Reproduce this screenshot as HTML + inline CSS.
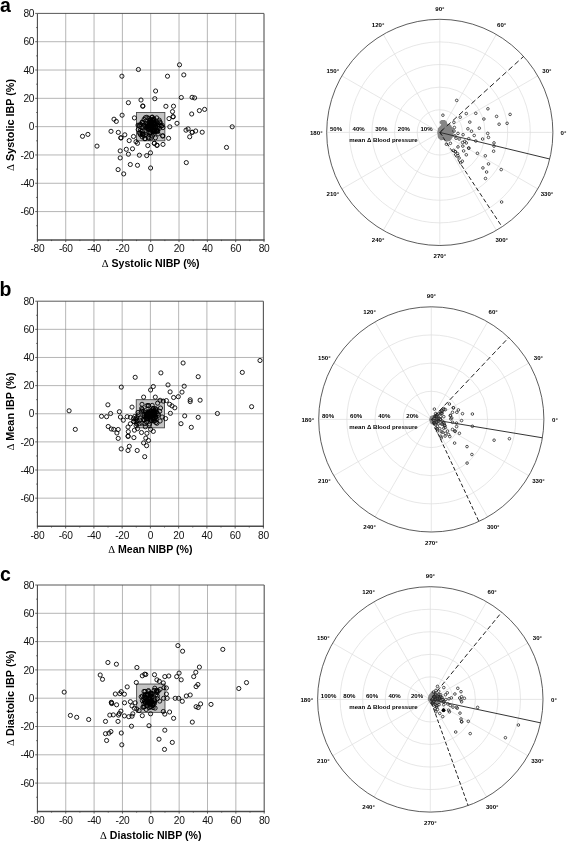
<!DOCTYPE html>
<html><head><meta charset="utf-8"><title>Figure</title>
<style>html,body{margin:0;padding:0;background:#fff}body{width:567px;height:842px;overflow:hidden;font-family:"Liberation Sans",sans-serif}</style>
</head><body>
<svg width="567" height="842" viewBox="0 0 567 842" style="display:block;will-change:transform">
<rect width="567" height="842" fill="#fff"/>
<g id="scatter-a">
<path d="M65.72 13.40V239.90M37.40 211.59H264.00M94.05 13.40V239.90M37.40 183.28H264.00M122.38 13.40V239.90M37.40 154.96H264.00M150.70 13.40V239.90M37.40 126.65H264.00M179.03 13.40V239.90M37.40 98.34H264.00M207.35 13.40V239.90M37.40 70.03H264.00M235.68 13.40V239.90M37.40 41.71H264.00" stroke="#8e8e8e" stroke-width="0.65" fill="none"/>
<rect x="136.54" y="112.49" width="28.32" height="28.31" fill="#c4c4c4" stroke="#4a4a4a" stroke-width="0.9"/>
<path d="M37.40 13.40H264.00" stroke="#444" stroke-width="0.9" fill="none"/>
<path d="M264.00 13.40V239.90" stroke="#5a5a5a" stroke-width="1.15" fill="none"/>
<path d="M37.40 13.40V239.90" stroke="#444" stroke-width="1.05" fill="none"/>
<path d="M36.90 239.90H264.60" stroke="#4c4c4c" stroke-width="1.45" fill="none"/>
<path d="M37.40 239.90v2.2M51.56 239.90v1.2M37.40 225.74h-1.2M65.72 239.90v2.2M37.40 211.59h-2.2M79.89 239.90v1.2M37.40 197.43h-1.2M94.05 239.90v2.2M37.40 183.28h-2.2M108.21 239.90v1.2M37.40 169.12h-1.2M122.38 239.90v2.2M37.40 154.96h-2.2M136.54 239.90v1.2M37.40 140.81h-1.2M150.70 239.90v2.2M37.40 126.65h-2.2M164.86 239.90v1.2M37.40 112.49h-1.2M179.03 239.90v2.2M37.40 98.34h-2.2M193.19 239.90v1.2M37.40 84.18h-1.2M207.35 239.90v2.2M37.40 70.03h-2.2M221.51 239.90v1.2M37.40 55.87h-1.2M235.68 239.90v2.2M37.40 41.71h-2.2M249.84 239.90v1.2M37.40 27.56h-1.2M264.00 239.90v2.2M37.40 13.40h-2.2" stroke="#3c3c3c" stroke-width="0.8" fill="none"/>
<g font-family="Liberation Sans, sans-serif" font-size="10.2" letter-spacing="-0.35" fill="#111">
<text x="37.40" y="251.75" text-anchor="middle">-80</text>
<text x="65.72" y="251.75" text-anchor="middle">-60</text>
<text x="34.20" y="215.24" text-anchor="end">-60</text>
<text x="94.05" y="251.75" text-anchor="middle">-40</text>
<text x="34.20" y="186.93" text-anchor="end">-40</text>
<text x="122.38" y="251.75" text-anchor="middle">-20</text>
<text x="34.20" y="158.61" text-anchor="end">-20</text>
<text x="150.70" y="251.75" text-anchor="middle">0</text>
<text x="34.20" y="130.30" text-anchor="end">0</text>
<text x="179.03" y="251.75" text-anchor="middle">20</text>
<text x="34.20" y="101.99" text-anchor="end">20</text>
<text x="207.35" y="251.75" text-anchor="middle">40</text>
<text x="34.20" y="73.68" text-anchor="end">40</text>
<text x="235.68" y="251.75" text-anchor="middle">60</text>
<text x="34.20" y="45.36" text-anchor="end">60</text>
<text x="264.00" y="251.75" text-anchor="middle">80</text>
<text x="34.20" y="17.05" text-anchor="end">80</text>
</g>
<text x="150.70" y="267.30" text-anchor="middle" font-family="Liberation Sans, sans-serif" font-weight="bold" font-size="10.6" fill="#000"><tspan font-family="Liberation Serif, serif" font-weight="normal">Δ</tspan> Systolic NIBP (%)</text>
<text transform="translate(14.0 125.00) rotate(-90)" text-anchor="middle" font-family="Liberation Sans, sans-serif" font-weight="bold" font-size="10.8" fill="#000"><tspan font-family="Liberation Serif, serif" font-weight="normal">Δ</tspan> Systolic IBP (%)</text>
<text x="0.1" y="11.80" font-family="Liberation Sans, sans-serif" font-weight="bold" font-size="19.5" fill="#000">a</text>
<g fill="none" stroke="#000" stroke-width="0.88">
<circle cx="156.7" cy="117.9" r="2.08"/>
<circle cx="152.1" cy="129.0" r="2.08"/>
<circle cx="147.6" cy="125.8" r="2.08"/>
<circle cx="147.9" cy="132.8" r="2.08"/>
<circle cx="152.6" cy="124.7" r="2.08"/>
<circle cx="153.9" cy="129.5" r="2.08"/>
<circle cx="151.8" cy="125.7" r="2.08"/>
<circle cx="146.1" cy="123.6" r="2.08"/>
<circle cx="152.6" cy="126.0" r="2.08"/>
<circle cx="156.5" cy="123.9" r="2.08"/>
<circle cx="155.3" cy="126.7" r="2.08"/>
<circle cx="152.6" cy="120.4" r="2.08"/>
<circle cx="154.4" cy="124.5" r="2.08"/>
<circle cx="147.7" cy="123.8" r="2.08"/>
<circle cx="152.1" cy="121.9" r="2.08"/>
<circle cx="152.6" cy="120.1" r="2.08"/>
<circle cx="151.6" cy="124.5" r="2.08"/>
<circle cx="154.3" cy="130.3" r="2.08"/>
<circle cx="150.3" cy="128.0" r="2.08"/>
<circle cx="159.3" cy="124.9" r="2.08"/>
<circle cx="154.3" cy="122.1" r="2.08"/>
<circle cx="150.7" cy="132.9" r="2.08"/>
<circle cx="155.5" cy="126.9" r="2.08"/>
<circle cx="154.5" cy="131.3" r="2.08"/>
<circle cx="150.1" cy="119.6" r="2.08"/>
<circle cx="157.2" cy="130.9" r="2.08"/>
<circle cx="146.7" cy="126.3" r="2.08"/>
<circle cx="154.6" cy="124.3" r="2.08"/>
<circle cx="153.0" cy="130.0" r="2.08"/>
<circle cx="154.0" cy="119.8" r="2.08"/>
<circle cx="150.1" cy="132.5" r="2.08"/>
<circle cx="148.9" cy="122.1" r="2.08"/>
<circle cx="145.2" cy="126.7" r="2.08"/>
<circle cx="148.0" cy="126.5" r="2.08"/>
<circle cx="150.9" cy="125.4" r="2.08"/>
<circle cx="157.5" cy="122.7" r="2.08"/>
<circle cx="156.9" cy="125.4" r="2.08"/>
<circle cx="150.0" cy="123.8" r="2.08"/>
<circle cx="152.4" cy="131.2" r="2.08"/>
<circle cx="153.6" cy="127.8" r="2.08"/>
<circle cx="148.1" cy="128.4" r="2.08"/>
<circle cx="151.2" cy="119.5" r="2.08"/>
<circle cx="152.2" cy="125.5" r="2.08"/>
<circle cx="153.3" cy="133.9" r="2.08"/>
<circle cx="156.5" cy="129.9" r="2.08"/>
<circle cx="153.5" cy="130.6" r="2.08"/>
<circle cx="148.1" cy="127.8" r="2.08"/>
<circle cx="149.5" cy="127.0" r="2.08"/>
<circle cx="147.4" cy="126.1" r="2.08"/>
<circle cx="149.6" cy="122.2" r="2.08"/>
<circle cx="146.6" cy="127.6" r="2.08"/>
<circle cx="148.6" cy="129.2" r="2.08"/>
<circle cx="154.5" cy="124.5" r="2.08"/>
<circle cx="154.0" cy="119.4" r="2.08"/>
<circle cx="156.2" cy="131.4" r="2.08"/>
<circle cx="149.2" cy="125.4" r="2.08"/>
<circle cx="161.4" cy="126.0" r="2.08"/>
<circle cx="150.6" cy="124.5" r="2.08"/>
<circle cx="142.2" cy="127.7" r="2.08"/>
<circle cx="153.8" cy="118.8" r="2.08"/>
<circle cx="139.8" cy="133.4" r="2.08"/>
<circle cx="155.4" cy="137.8" r="2.08"/>
<circle cx="154.4" cy="123.2" r="2.08"/>
<circle cx="151.1" cy="138.0" r="2.08"/>
<circle cx="142.3" cy="134.6" r="2.08"/>
<circle cx="138.2" cy="129.6" r="2.08"/>
<circle cx="148.9" cy="118.2" r="2.08"/>
<circle cx="150.9" cy="123.1" r="2.08"/>
<circle cx="150.4" cy="122.6" r="2.08"/>
<circle cx="149.3" cy="132.7" r="2.08"/>
<circle cx="159.2" cy="120.1" r="2.08"/>
<circle cx="145.6" cy="134.5" r="2.08"/>
<circle cx="144.9" cy="138.7" r="2.08"/>
<circle cx="157.3" cy="128.3" r="2.08"/>
<circle cx="159.4" cy="128.4" r="2.08"/>
<circle cx="161.1" cy="126.0" r="2.08"/>
<circle cx="162.9" cy="127.6" r="2.08"/>
<circle cx="139.3" cy="125.1" r="2.08"/>
<circle cx="157.6" cy="131.6" r="2.08"/>
<circle cx="139.7" cy="132.7" r="2.08"/>
<circle cx="140.5" cy="134.8" r="2.08"/>
<circle cx="158.1" cy="133.9" r="2.08"/>
<circle cx="151.9" cy="127.9" r="2.08"/>
<circle cx="142.4" cy="122.0" r="2.08"/>
<circle cx="140.8" cy="124.5" r="2.08"/>
<circle cx="140.4" cy="130.3" r="2.08"/>
<circle cx="142.9" cy="133.8" r="2.08"/>
<circle cx="145.3" cy="117.7" r="2.08"/>
<circle cx="142.9" cy="130.6" r="2.08"/>
<circle cx="159.6" cy="121.8" r="2.08"/>
<circle cx="142.9" cy="134.1" r="2.08"/>
<circle cx="157.5" cy="130.1" r="2.08"/>
<circle cx="145.1" cy="138.6" r="2.08"/>
<circle cx="139.7" cy="126.3" r="2.08"/>
<circle cx="143.7" cy="125.2" r="2.08"/>
<circle cx="147.1" cy="128.5" r="2.08"/>
<circle cx="162.3" cy="125.4" r="2.08"/>
<circle cx="152.3" cy="117.1" r="2.08"/>
<circle cx="142.2" cy="136.9" r="2.08"/>
<circle cx="143.9" cy="135.8" r="2.08"/>
<circle cx="160.3" cy="122.6" r="2.08"/>
<circle cx="148.4" cy="137.3" r="2.08"/>
<circle cx="143.6" cy="122.6" r="2.08"/>
<circle cx="144.1" cy="119.4" r="2.08"/>
<circle cx="152.9" cy="131.7" r="2.08"/>
<circle cx="142.0" cy="122.4" r="2.08"/>
<circle cx="151.9" cy="117.5" r="2.08"/>
<circle cx="153.4" cy="132.0" r="2.08"/>
<circle cx="149.0" cy="138.3" r="2.08"/>
<circle cx="142.0" cy="131.4" r="2.08"/>
<circle cx="152.3" cy="136.0" r="2.08"/>
<circle cx="146.8" cy="117.3" r="2.08"/>
<circle cx="155.4" cy="123.9" r="2.08"/>
<circle cx="138.0" cy="125.2" r="2.08"/>
<circle cx="149.9" cy="120.9" r="2.08"/>
<circle cx="138.4" cy="69.5" r="2.08"/>
<circle cx="121.9" cy="76.2" r="2.08"/>
<circle cx="155.6" cy="91.0" r="2.08"/>
<circle cx="141.0" cy="100.0" r="2.08"/>
<circle cx="154.8" cy="98.7" r="2.08"/>
<circle cx="128.4" cy="102.7" r="2.08"/>
<circle cx="142.7" cy="106.0" r="2.08"/>
<circle cx="142.9" cy="106.2" r="2.08"/>
<circle cx="122.1" cy="115.2" r="2.08"/>
<circle cx="114.0" cy="119.2" r="2.08"/>
<circle cx="116.3" cy="121.4" r="2.08"/>
<circle cx="134.4" cy="117.9" r="2.08"/>
<circle cx="111.0" cy="131.3" r="2.08"/>
<circle cx="118.3" cy="132.4" r="2.08"/>
<circle cx="87.9" cy="134.4" r="2.08"/>
<circle cx="82.5" cy="136.3" r="2.08"/>
<circle cx="124.8" cy="134.8" r="2.08"/>
<circle cx="120.8" cy="137.8" r="2.08"/>
<circle cx="121.0" cy="137.9" r="2.08"/>
<circle cx="133.5" cy="136.5" r="2.08"/>
<circle cx="179.5" cy="64.8" r="2.08"/>
<circle cx="183.8" cy="74.9" r="2.08"/>
<circle cx="167.5" cy="76.2" r="2.08"/>
<circle cx="181.3" cy="97.5" r="2.08"/>
<circle cx="192.1" cy="97.3" r="2.08"/>
<circle cx="194.6" cy="97.9" r="2.08"/>
<circle cx="165.9" cy="106.3" r="2.08"/>
<circle cx="173.5" cy="106.2" r="2.08"/>
<circle cx="172.5" cy="111.6" r="2.08"/>
<circle cx="204.6" cy="109.4" r="2.08"/>
<circle cx="199.4" cy="110.6" r="2.08"/>
<circle cx="191.7" cy="114.0" r="2.08"/>
<circle cx="173.0" cy="116.7" r="2.08"/>
<circle cx="173.2" cy="116.8" r="2.08"/>
<circle cx="169.0" cy="118.6" r="2.08"/>
<circle cx="177.0" cy="123.3" r="2.08"/>
<circle cx="169.8" cy="126.8" r="2.08"/>
<circle cx="232.2" cy="126.8" r="2.08"/>
<circle cx="186.0" cy="130.2" r="2.08"/>
<circle cx="188.1" cy="128.9" r="2.08"/>
<circle cx="195.7" cy="131.0" r="2.08"/>
<circle cx="192.1" cy="132.2" r="2.08"/>
<circle cx="192.2" cy="132.4" r="2.08"/>
<circle cx="202.2" cy="132.2" r="2.08"/>
<circle cx="189.7" cy="136.8" r="2.08"/>
<circle cx="168.6" cy="138.3" r="2.08"/>
<circle cx="162.7" cy="135.7" r="2.08"/>
<circle cx="129.2" cy="140.6" r="2.08"/>
<circle cx="97.0" cy="146.1" r="2.08"/>
<circle cx="136.0" cy="141.7" r="2.08"/>
<circle cx="137.5" cy="143.3" r="2.08"/>
<circle cx="147.8" cy="145.6" r="2.08"/>
<circle cx="154.4" cy="143.3" r="2.08"/>
<circle cx="157.0" cy="145.3" r="2.08"/>
<circle cx="120.2" cy="150.9" r="2.08"/>
<circle cx="126.3" cy="149.3" r="2.08"/>
<circle cx="132.5" cy="148.8" r="2.08"/>
<circle cx="128.4" cy="154.2" r="2.08"/>
<circle cx="139.4" cy="155.2" r="2.08"/>
<circle cx="146.7" cy="155.6" r="2.08"/>
<circle cx="150.5" cy="152.8" r="2.08"/>
<circle cx="120.2" cy="157.9" r="2.08"/>
<circle cx="130.3" cy="164.5" r="2.08"/>
<circle cx="137.5" cy="165.3" r="2.08"/>
<circle cx="150.6" cy="168.0" r="2.08"/>
<circle cx="118.1" cy="169.6" r="2.08"/>
<circle cx="123.7" cy="173.9" r="2.08"/>
<circle cx="162.7" cy="136.1" r="2.08"/>
<circle cx="154.3" cy="143.3" r="2.08"/>
<circle cx="157.0" cy="145.3" r="2.08"/>
<circle cx="163.0" cy="144.4" r="2.08"/>
<circle cx="226.5" cy="147.4" r="2.08"/>
<circle cx="186.3" cy="162.6" r="2.08"/>
</g>
</g>
<g id="scatter-b">
<path d="M65.65 301.20V526.30M37.40 498.16H263.40M93.90 301.20V526.30M37.40 470.02H263.40M122.15 301.20V526.30M37.40 441.89H263.40M150.40 301.20V526.30M37.40 413.75H263.40M178.65 301.20V526.30M37.40 385.61H263.40M206.90 301.20V526.30M37.40 357.47H263.40M235.15 301.20V526.30M37.40 329.34H263.40" stroke="#8e8e8e" stroke-width="0.65" fill="none"/>
<rect x="136.27" y="399.68" width="28.25" height="28.14" fill="#c4c4c4" stroke="#4a4a4a" stroke-width="0.9"/>
<path d="M37.40 301.20H263.40" stroke="#444" stroke-width="0.9" fill="none"/>
<path d="M263.40 301.20V526.30" stroke="#5a5a5a" stroke-width="1.15" fill="none"/>
<path d="M37.40 301.20V526.30" stroke="#444" stroke-width="1.05" fill="none"/>
<path d="M36.90 526.30H264.00" stroke="#4c4c4c" stroke-width="1.45" fill="none"/>
<path d="M37.40 526.30v2.2M51.52 526.30v1.2M37.40 512.23h-1.2M65.65 526.30v2.2M37.40 498.16h-2.2M79.77 526.30v1.2M37.40 484.09h-1.2M93.90 526.30v2.2M37.40 470.02h-2.2M108.03 526.30v1.2M37.40 455.96h-1.2M122.15 526.30v2.2M37.40 441.89h-2.2M136.27 526.30v1.2M37.40 427.82h-1.2M150.40 526.30v2.2M37.40 413.75h-2.2M164.52 526.30v1.2M37.40 399.68h-1.2M178.65 526.30v2.2M37.40 385.61h-2.2M192.77 526.30v1.2M37.40 371.54h-1.2M206.90 526.30v2.2M37.40 357.47h-2.2M221.02 526.30v1.2M37.40 343.41h-1.2M235.15 526.30v2.2M37.40 329.34h-2.2M249.27 526.30v1.2M37.40 315.27h-1.2M263.40 526.30v2.2M37.40 301.20h-2.2" stroke="#3c3c3c" stroke-width="0.8" fill="none"/>
<g font-family="Liberation Sans, sans-serif" font-size="10.2" letter-spacing="-0.35" fill="#111">
<text x="37.40" y="538.65" text-anchor="middle">-80</text>
<text x="65.65" y="538.65" text-anchor="middle">-60</text>
<text x="34.20" y="501.81" text-anchor="end">-60</text>
<text x="93.90" y="538.65" text-anchor="middle">-40</text>
<text x="34.20" y="473.67" text-anchor="end">-40</text>
<text x="122.15" y="538.65" text-anchor="middle">-20</text>
<text x="34.20" y="445.54" text-anchor="end">-20</text>
<text x="150.40" y="538.65" text-anchor="middle">0</text>
<text x="34.20" y="417.40" text-anchor="end">0</text>
<text x="178.65" y="538.65" text-anchor="middle">20</text>
<text x="34.20" y="389.26" text-anchor="end">20</text>
<text x="206.90" y="538.65" text-anchor="middle">40</text>
<text x="34.20" y="361.12" text-anchor="end">40</text>
<text x="235.15" y="538.65" text-anchor="middle">60</text>
<text x="34.20" y="332.99" text-anchor="end">60</text>
<text x="263.40" y="538.65" text-anchor="middle">80</text>
<text x="34.20" y="304.85" text-anchor="end">80</text>
</g>
<text x="150.40" y="553.10" text-anchor="middle" font-family="Liberation Sans, sans-serif" font-weight="bold" font-size="10.6" fill="#000"><tspan font-family="Liberation Serif, serif" font-weight="normal">Δ</tspan> Mean NIBP (%)</text>
<text transform="translate(14.0 411.50) rotate(-90)" text-anchor="middle" font-family="Liberation Sans, sans-serif" font-weight="bold" font-size="10.8" fill="#000"><tspan font-family="Liberation Serif, serif" font-weight="normal">Δ</tspan> Mean IBP (%)</text>
<text x="-0.6" y="295.60" font-family="Liberation Sans, sans-serif" font-weight="bold" font-size="19.5" fill="#000">b</text>
<g fill="none" stroke="#000" stroke-width="0.88">
<circle cx="152.2" cy="413.3" r="2.08"/>
<circle cx="153.8" cy="418.9" r="2.08"/>
<circle cx="149.3" cy="417.4" r="2.08"/>
<circle cx="146.9" cy="418.3" r="2.08"/>
<circle cx="149.0" cy="415.7" r="2.08"/>
<circle cx="147.5" cy="413.3" r="2.08"/>
<circle cx="155.1" cy="414.8" r="2.08"/>
<circle cx="148.1" cy="413.8" r="2.08"/>
<circle cx="151.6" cy="413.8" r="2.08"/>
<circle cx="147.7" cy="414.1" r="2.08"/>
<circle cx="146.2" cy="416.0" r="2.08"/>
<circle cx="150.9" cy="413.3" r="2.08"/>
<circle cx="149.9" cy="412.5" r="2.08"/>
<circle cx="149.8" cy="416.6" r="2.08"/>
<circle cx="155.8" cy="417.3" r="2.08"/>
<circle cx="151.3" cy="420.8" r="2.08"/>
<circle cx="152.9" cy="414.3" r="2.08"/>
<circle cx="150.9" cy="420.2" r="2.08"/>
<circle cx="146.5" cy="414.0" r="2.08"/>
<circle cx="144.0" cy="415.7" r="2.08"/>
<circle cx="154.0" cy="416.0" r="2.08"/>
<circle cx="150.1" cy="418.7" r="2.08"/>
<circle cx="151.4" cy="410.7" r="2.08"/>
<circle cx="150.1" cy="416.5" r="2.08"/>
<circle cx="153.2" cy="415.3" r="2.08"/>
<circle cx="153.4" cy="415.4" r="2.08"/>
<circle cx="156.2" cy="414.6" r="2.08"/>
<circle cx="146.5" cy="415.3" r="2.08"/>
<circle cx="148.0" cy="418.9" r="2.08"/>
<circle cx="149.9" cy="412.0" r="2.08"/>
<circle cx="149.8" cy="415.5" r="2.08"/>
<circle cx="153.3" cy="419.2" r="2.08"/>
<circle cx="152.8" cy="415.1" r="2.08"/>
<circle cx="150.8" cy="415.5" r="2.08"/>
<circle cx="149.2" cy="417.1" r="2.08"/>
<circle cx="154.2" cy="410.6" r="2.08"/>
<circle cx="152.4" cy="416.1" r="2.08"/>
<circle cx="145.7" cy="412.5" r="2.08"/>
<circle cx="154.1" cy="412.8" r="2.08"/>
<circle cx="153.3" cy="408.6" r="2.08"/>
<circle cx="156.5" cy="412.0" r="2.08"/>
<circle cx="153.5" cy="413.2" r="2.08"/>
<circle cx="151.6" cy="416.1" r="2.08"/>
<circle cx="153.0" cy="408.4" r="2.08"/>
<circle cx="150.0" cy="413.6" r="2.08"/>
<circle cx="152.9" cy="413.9" r="2.08"/>
<circle cx="154.0" cy="412.7" r="2.08"/>
<circle cx="146.4" cy="419.3" r="2.08"/>
<circle cx="153.3" cy="411.4" r="2.08"/>
<circle cx="154.7" cy="412.6" r="2.08"/>
<circle cx="151.4" cy="420.3" r="2.08"/>
<circle cx="155.7" cy="416.8" r="2.08"/>
<circle cx="154.5" cy="418.0" r="2.08"/>
<circle cx="148.3" cy="414.3" r="2.08"/>
<circle cx="149.1" cy="417.4" r="2.08"/>
<circle cx="153.9" cy="411.0" r="2.08"/>
<circle cx="152.1" cy="415.3" r="2.08"/>
<circle cx="147.7" cy="416.8" r="2.08"/>
<circle cx="148.3" cy="412.1" r="2.08"/>
<circle cx="154.9" cy="420.9" r="2.08"/>
<circle cx="141.5" cy="411.3" r="2.08"/>
<circle cx="155.7" cy="410.6" r="2.08"/>
<circle cx="151.2" cy="411.0" r="2.08"/>
<circle cx="137.1" cy="420.9" r="2.08"/>
<circle cx="134.7" cy="416.5" r="2.08"/>
<circle cx="143.7" cy="419.3" r="2.08"/>
<circle cx="149.5" cy="423.9" r="2.08"/>
<circle cx="136.0" cy="421.7" r="2.08"/>
<circle cx="136.8" cy="423.8" r="2.08"/>
<circle cx="153.3" cy="421.0" r="2.08"/>
<circle cx="155.9" cy="422.5" r="2.08"/>
<circle cx="138.0" cy="412.5" r="2.08"/>
<circle cx="145.8" cy="418.2" r="2.08"/>
<circle cx="152.5" cy="414.5" r="2.08"/>
<circle cx="145.3" cy="426.8" r="2.08"/>
<circle cx="144.3" cy="420.0" r="2.08"/>
<circle cx="155.7" cy="409.1" r="2.08"/>
<circle cx="136.1" cy="425.8" r="2.08"/>
<circle cx="144.6" cy="416.7" r="2.08"/>
<circle cx="159.7" cy="411.3" r="2.08"/>
<circle cx="146.8" cy="415.7" r="2.08"/>
<circle cx="139.8" cy="420.2" r="2.08"/>
<circle cx="145.4" cy="410.7" r="2.08"/>
<circle cx="135.7" cy="419.1" r="2.08"/>
<circle cx="138.3" cy="415.0" r="2.08"/>
<circle cx="143.9" cy="414.2" r="2.08"/>
<circle cx="134.0" cy="421.7" r="2.08"/>
<circle cx="139.3" cy="423.6" r="2.08"/>
<circle cx="148.4" cy="405.6" r="2.08"/>
<circle cx="148.6" cy="405.6" r="2.08"/>
<circle cx="144.6" cy="423.6" r="2.08"/>
<circle cx="157.6" cy="403.2" r="2.08"/>
<circle cx="158.4" cy="415.2" r="2.08"/>
<circle cx="133.6" cy="418.4" r="2.08"/>
<circle cx="149.3" cy="425.5" r="2.08"/>
<circle cx="143.2" cy="411.2" r="2.08"/>
<circle cx="160.5" cy="408.0" r="2.08"/>
<circle cx="140.0" cy="418.0" r="2.08"/>
<circle cx="148.4" cy="412.7" r="2.08"/>
<circle cx="142.1" cy="409.7" r="2.08"/>
<circle cx="141.7" cy="408.4" r="2.08"/>
<circle cx="149.7" cy="410.8" r="2.08"/>
<circle cx="156.2" cy="418.8" r="2.08"/>
<circle cx="141.9" cy="423.2" r="2.08"/>
<circle cx="155.4" cy="408.7" r="2.08"/>
<circle cx="146.5" cy="421.8" r="2.08"/>
<circle cx="147.0" cy="405.6" r="2.08"/>
<circle cx="151.2" cy="411.8" r="2.08"/>
<circle cx="158.1" cy="413.7" r="2.08"/>
<circle cx="152.2" cy="405.4" r="2.08"/>
<circle cx="135.2" cy="377.3" r="2.08"/>
<circle cx="121.3" cy="387.1" r="2.08"/>
<circle cx="143.6" cy="397.1" r="2.08"/>
<circle cx="107.9" cy="404.8" r="2.08"/>
<circle cx="132.0" cy="407.1" r="2.08"/>
<circle cx="142.0" cy="404.3" r="2.08"/>
<circle cx="69.1" cy="410.8" r="2.08"/>
<circle cx="119.4" cy="411.7" r="2.08"/>
<circle cx="110.6" cy="413.5" r="2.08"/>
<circle cx="101.5" cy="416.3" r="2.08"/>
<circle cx="106.6" cy="416.7" r="2.08"/>
<circle cx="120.4" cy="417.0" r="2.08"/>
<circle cx="123.3" cy="420.2" r="2.08"/>
<circle cx="127.2" cy="416.7" r="2.08"/>
<circle cx="130.4" cy="417.3" r="2.08"/>
<circle cx="75.3" cy="429.4" r="2.08"/>
<circle cx="108.2" cy="426.5" r="2.08"/>
<circle cx="111.3" cy="429.0" r="2.08"/>
<circle cx="113.7" cy="429.4" r="2.08"/>
<circle cx="118.2" cy="429.5" r="2.08"/>
<circle cx="116.9" cy="433.0" r="2.08"/>
<circle cx="118.2" cy="438.4" r="2.08"/>
<circle cx="128.0" cy="427.0" r="2.08"/>
<circle cx="130.4" cy="423.8" r="2.08"/>
<circle cx="133.6" cy="421.4" r="2.08"/>
<circle cx="136.7" cy="417.5" r="2.08"/>
<circle cx="128.3" cy="431.7" r="2.08"/>
<circle cx="128.0" cy="436.2" r="2.08"/>
<circle cx="128.2" cy="436.3" r="2.08"/>
<circle cx="133.9" cy="437.6" r="2.08"/>
<circle cx="141.5" cy="432.5" r="2.08"/>
<circle cx="134.4" cy="430.2" r="2.08"/>
<circle cx="137.5" cy="428.6" r="2.08"/>
<circle cx="121.2" cy="448.9" r="2.08"/>
<circle cx="129.3" cy="446.3" r="2.08"/>
<circle cx="128.0" cy="450.5" r="2.08"/>
<circle cx="137.2" cy="450.5" r="2.08"/>
<circle cx="143.6" cy="442.9" r="2.08"/>
<circle cx="144.7" cy="456.7" r="2.08"/>
<circle cx="183.1" cy="363.0" r="2.08"/>
<circle cx="160.9" cy="372.9" r="2.08"/>
<circle cx="198.2" cy="376.7" r="2.08"/>
<circle cx="168.0" cy="384.9" r="2.08"/>
<circle cx="184.2" cy="386.2" r="2.08"/>
<circle cx="153.3" cy="386.5" r="2.08"/>
<circle cx="150.6" cy="390.0" r="2.08"/>
<circle cx="170.1" cy="391.9" r="2.08"/>
<circle cx="182.0" cy="392.1" r="2.08"/>
<circle cx="173.6" cy="397.5" r="2.08"/>
<circle cx="178.3" cy="396.7" r="2.08"/>
<circle cx="155.3" cy="397.1" r="2.08"/>
<circle cx="190.2" cy="399.8" r="2.08"/>
<circle cx="190.2" cy="401.6" r="2.08"/>
<circle cx="200.1" cy="400.2" r="2.08"/>
<circle cx="166.4" cy="400.6" r="2.08"/>
<circle cx="163.3" cy="401.1" r="2.08"/>
<circle cx="160.1" cy="400.3" r="2.08"/>
<circle cx="169.6" cy="404.3" r="2.08"/>
<circle cx="172.0" cy="405.9" r="2.08"/>
<circle cx="174.8" cy="407.8" r="2.08"/>
<circle cx="170.4" cy="413.3" r="2.08"/>
<circle cx="184.7" cy="415.9" r="2.08"/>
<circle cx="198.2" cy="417.3" r="2.08"/>
<circle cx="217.4" cy="413.5" r="2.08"/>
<circle cx="165.6" cy="418.6" r="2.08"/>
<circle cx="162.1" cy="417.0" r="2.08"/>
<circle cx="181.0" cy="423.7" r="2.08"/>
<circle cx="191.3" cy="427.3" r="2.08"/>
<circle cx="160.1" cy="421.0" r="2.08"/>
<circle cx="156.9" cy="423.3" r="2.08"/>
<circle cx="260.0" cy="360.5" r="2.08"/>
<circle cx="242.3" cy="372.4" r="2.08"/>
<circle cx="251.6" cy="406.7" r="2.08"/>
<circle cx="153.3" cy="431.4" r="2.08"/>
<circle cx="150.6" cy="429.4" r="2.08"/>
<circle cx="146.9" cy="433.3" r="2.08"/>
<circle cx="148.5" cy="440.5" r="2.08"/>
<circle cx="145.8" cy="438.1" r="2.08"/>
<circle cx="146.6" cy="445.7" r="2.08"/>
</g>
</g>
<g id="scatter-c">
<path d="M65.75 585.00V811.40M37.40 783.10H264.20M94.10 585.00V811.40M37.40 754.80H264.20M122.45 585.00V811.40M37.40 726.50H264.20M150.80 585.00V811.40M37.40 698.20H264.20M179.15 585.00V811.40M37.40 669.90H264.20M207.50 585.00V811.40M37.40 641.60H264.20M235.85 585.00V811.40M37.40 613.30H264.20" stroke="#8e8e8e" stroke-width="0.65" fill="none"/>
<rect x="136.62" y="684.05" width="28.35" height="28.30" fill="#c4c4c4" stroke="#4a4a4a" stroke-width="0.9"/>
<path d="M37.40 585.00H264.20" stroke="#444" stroke-width="0.9" fill="none"/>
<path d="M264.20 585.00V811.40" stroke="#5a5a5a" stroke-width="1.15" fill="none"/>
<path d="M37.40 585.00V811.40" stroke="#444" stroke-width="1.05" fill="none"/>
<path d="M36.90 811.40H264.80" stroke="#4c4c4c" stroke-width="1.45" fill="none"/>
<path d="M37.40 811.40v2.2M51.58 811.40v1.2M37.40 797.25h-1.2M65.75 811.40v2.2M37.40 783.10h-2.2M79.92 811.40v1.2M37.40 768.95h-1.2M94.10 811.40v2.2M37.40 754.80h-2.2M108.28 811.40v1.2M37.40 740.65h-1.2M122.45 811.40v2.2M37.40 726.50h-2.2M136.62 811.40v1.2M37.40 712.35h-1.2M150.80 811.40v2.2M37.40 698.20h-2.2M164.97 811.40v1.2M37.40 684.05h-1.2M179.15 811.40v2.2M37.40 669.90h-2.2M193.33 811.40v1.2M37.40 655.75h-1.2M207.50 811.40v2.2M37.40 641.60h-2.2M221.68 811.40v1.2M37.40 627.45h-1.2M235.85 811.40v2.2M37.40 613.30h-2.2M250.03 811.40v1.2M37.40 599.15h-1.2M264.20 811.40v2.2M37.40 585.00h-2.2" stroke="#3c3c3c" stroke-width="0.8" fill="none"/>
<g font-family="Liberation Sans, sans-serif" font-size="10.2" letter-spacing="-0.35" fill="#111">
<text x="37.40" y="823.65" text-anchor="middle">-80</text>
<text x="65.75" y="823.65" text-anchor="middle">-60</text>
<text x="34.20" y="786.75" text-anchor="end">-60</text>
<text x="94.10" y="823.65" text-anchor="middle">-40</text>
<text x="34.20" y="758.45" text-anchor="end">-40</text>
<text x="122.45" y="823.65" text-anchor="middle">-20</text>
<text x="34.20" y="730.15" text-anchor="end">-20</text>
<text x="150.80" y="823.65" text-anchor="middle">0</text>
<text x="34.20" y="701.85" text-anchor="end">0</text>
<text x="179.15" y="823.65" text-anchor="middle">20</text>
<text x="34.20" y="673.55" text-anchor="end">20</text>
<text x="207.50" y="823.65" text-anchor="middle">40</text>
<text x="34.20" y="645.25" text-anchor="end">40</text>
<text x="235.85" y="823.65" text-anchor="middle">60</text>
<text x="34.20" y="616.95" text-anchor="end">60</text>
<text x="264.20" y="823.65" text-anchor="middle">80</text>
<text x="34.20" y="588.65" text-anchor="end">80</text>
</g>
<text x="150.80" y="839.10" text-anchor="middle" font-family="Liberation Sans, sans-serif" font-weight="bold" font-size="10.6" fill="#000"><tspan font-family="Liberation Serif, serif" font-weight="normal">Δ</tspan> Diastolic NIBP (%)</text>
<text transform="translate(14.0 698.10) rotate(-90)" text-anchor="middle" font-family="Liberation Sans, sans-serif" font-weight="bold" font-size="10.8" fill="#000"><tspan font-family="Liberation Serif, serif" font-weight="normal">Δ</tspan> Diastolic IBP (%)</text>
<text x="0.1" y="581.20" font-family="Liberation Sans, sans-serif" font-weight="bold" font-size="19.5" fill="#000">c</text>
<g fill="none" stroke="#000" stroke-width="0.88">
<circle cx="150.8" cy="693.5" r="2.08"/>
<circle cx="147.0" cy="695.1" r="2.08"/>
<circle cx="149.4" cy="701.4" r="2.08"/>
<circle cx="157.4" cy="698.7" r="2.08"/>
<circle cx="150.2" cy="696.2" r="2.08"/>
<circle cx="154.6" cy="699.9" r="2.08"/>
<circle cx="152.6" cy="704.9" r="2.08"/>
<circle cx="149.0" cy="702.4" r="2.08"/>
<circle cx="144.4" cy="701.7" r="2.08"/>
<circle cx="149.8" cy="701.7" r="2.08"/>
<circle cx="150.7" cy="706.9" r="2.08"/>
<circle cx="150.1" cy="698.8" r="2.08"/>
<circle cx="153.2" cy="704.2" r="2.08"/>
<circle cx="145.1" cy="694.6" r="2.08"/>
<circle cx="151.6" cy="701.5" r="2.08"/>
<circle cx="152.1" cy="697.1" r="2.08"/>
<circle cx="154.3" cy="700.9" r="2.08"/>
<circle cx="148.2" cy="703.3" r="2.08"/>
<circle cx="146.8" cy="700.5" r="2.08"/>
<circle cx="147.5" cy="694.7" r="2.08"/>
<circle cx="149.4" cy="702.8" r="2.08"/>
<circle cx="154.4" cy="703.5" r="2.08"/>
<circle cx="149.8" cy="703.5" r="2.08"/>
<circle cx="152.8" cy="705.7" r="2.08"/>
<circle cx="150.1" cy="698.2" r="2.08"/>
<circle cx="156.0" cy="694.7" r="2.08"/>
<circle cx="148.6" cy="698.5" r="2.08"/>
<circle cx="148.7" cy="691.6" r="2.08"/>
<circle cx="151.2" cy="701.1" r="2.08"/>
<circle cx="149.6" cy="701.1" r="2.08"/>
<circle cx="149.7" cy="704.6" r="2.08"/>
<circle cx="149.9" cy="698.1" r="2.08"/>
<circle cx="149.6" cy="700.8" r="2.08"/>
<circle cx="151.6" cy="694.9" r="2.08"/>
<circle cx="148.7" cy="702.1" r="2.08"/>
<circle cx="153.3" cy="702.9" r="2.08"/>
<circle cx="146.1" cy="698.8" r="2.08"/>
<circle cx="147.3" cy="705.7" r="2.08"/>
<circle cx="145.6" cy="703.0" r="2.08"/>
<circle cx="154.5" cy="702.0" r="2.08"/>
<circle cx="145.0" cy="696.9" r="2.08"/>
<circle cx="150.6" cy="695.6" r="2.08"/>
<circle cx="145.1" cy="695.5" r="2.08"/>
<circle cx="154.1" cy="690.4" r="2.08"/>
<circle cx="143.6" cy="707.0" r="2.08"/>
<circle cx="142.8" cy="707.2" r="2.08"/>
<circle cx="155.1" cy="708.1" r="2.08"/>
<circle cx="150.9" cy="706.5" r="2.08"/>
<circle cx="145.9" cy="701.7" r="2.08"/>
<circle cx="157.3" cy="696.0" r="2.08"/>
<circle cx="156.7" cy="691.1" r="2.08"/>
<circle cx="157.1" cy="692.6" r="2.08"/>
<circle cx="145.1" cy="691.4" r="2.08"/>
<circle cx="149.9" cy="693.2" r="2.08"/>
<circle cx="151.5" cy="701.1" r="2.08"/>
<circle cx="147.3" cy="701.6" r="2.08"/>
<circle cx="146.3" cy="709.5" r="2.08"/>
<circle cx="156.9" cy="691.3" r="2.08"/>
<circle cx="151.3" cy="693.2" r="2.08"/>
<circle cx="142.5" cy="696.0" r="2.08"/>
<circle cx="149.0" cy="707.7" r="2.08"/>
<circle cx="144.0" cy="699.7" r="2.08"/>
<circle cx="145.0" cy="701.1" r="2.08"/>
<circle cx="152.4" cy="701.8" r="2.08"/>
<circle cx="142.4" cy="700.7" r="2.08"/>
<circle cx="144.6" cy="706.7" r="2.08"/>
<circle cx="143.8" cy="703.6" r="2.08"/>
<circle cx="141.2" cy="696.8" r="2.08"/>
<circle cx="159.7" cy="701.1" r="2.08"/>
<circle cx="154.8" cy="688.2" r="2.08"/>
<circle cx="156.6" cy="690.3" r="2.08"/>
<circle cx="153.1" cy="707.6" r="2.08"/>
<circle cx="148.4" cy="690.6" r="2.08"/>
<circle cx="158.3" cy="691.0" r="2.08"/>
<circle cx="144.0" cy="691.4" r="2.08"/>
<circle cx="147.6" cy="694.4" r="2.08"/>
<circle cx="152.4" cy="693.7" r="2.08"/>
<circle cx="144.1" cy="697.3" r="2.08"/>
<circle cx="151.9" cy="697.0" r="2.08"/>
<circle cx="147.2" cy="694.2" r="2.08"/>
<circle cx="107.9" cy="662.5" r="2.08"/>
<circle cx="116.4" cy="664.2" r="2.08"/>
<circle cx="136.9" cy="667.5" r="2.08"/>
<circle cx="100.2" cy="675.0" r="2.08"/>
<circle cx="102.5" cy="679.3" r="2.08"/>
<circle cx="142.3" cy="675.8" r="2.08"/>
<circle cx="144.7" cy="674.2" r="2.08"/>
<circle cx="136.3" cy="682.5" r="2.08"/>
<circle cx="127.2" cy="686.9" r="2.08"/>
<circle cx="64.2" cy="692.1" r="2.08"/>
<circle cx="121.3" cy="691.7" r="2.08"/>
<circle cx="115.3" cy="694.0" r="2.08"/>
<circle cx="119.8" cy="693.6" r="2.08"/>
<circle cx="124.4" cy="694.2" r="2.08"/>
<circle cx="111.3" cy="702.3" r="2.08"/>
<circle cx="111.8" cy="703.6" r="2.08"/>
<circle cx="111.5" cy="702.8" r="2.08"/>
<circle cx="116.6" cy="704.8" r="2.08"/>
<circle cx="124.5" cy="702.8" r="2.08"/>
<circle cx="130.4" cy="701.7" r="2.08"/>
<circle cx="135.2" cy="702.8" r="2.08"/>
<circle cx="70.4" cy="715.4" r="2.08"/>
<circle cx="76.7" cy="717.3" r="2.08"/>
<circle cx="88.7" cy="719.5" r="2.08"/>
<circle cx="109.8" cy="715.1" r="2.08"/>
<circle cx="113.3" cy="714.9" r="2.08"/>
<circle cx="118.5" cy="715.1" r="2.08"/>
<circle cx="120.9" cy="711.1" r="2.08"/>
<circle cx="119.3" cy="713.5" r="2.08"/>
<circle cx="124.4" cy="715.9" r="2.08"/>
<circle cx="128.8" cy="716.7" r="2.08"/>
<circle cx="132.0" cy="716.2" r="2.08"/>
<circle cx="132.8" cy="713.8" r="2.08"/>
<circle cx="132.0" cy="705.9" r="2.08"/>
<circle cx="134.4" cy="708.3" r="2.08"/>
<circle cx="136.7" cy="709.0" r="2.08"/>
<circle cx="139.1" cy="710.6" r="2.08"/>
<circle cx="142.3" cy="715.7" r="2.08"/>
<circle cx="105.5" cy="721.4" r="2.08"/>
<circle cx="118.0" cy="721.4" r="2.08"/>
<circle cx="131.5" cy="726.2" r="2.08"/>
<circle cx="105.5" cy="733.7" r="2.08"/>
<circle cx="109.0" cy="733.2" r="2.08"/>
<circle cx="110.9" cy="731.6" r="2.08"/>
<circle cx="121.3" cy="733.0" r="2.08"/>
<circle cx="106.6" cy="740.5" r="2.08"/>
<circle cx="121.8" cy="744.8" r="2.08"/>
<circle cx="177.9" cy="645.6" r="2.08"/>
<circle cx="182.6" cy="651.2" r="2.08"/>
<circle cx="222.8" cy="649.4" r="2.08"/>
<circle cx="199.4" cy="667.1" r="2.08"/>
<circle cx="195.8" cy="672.3" r="2.08"/>
<circle cx="193.7" cy="676.6" r="2.08"/>
<circle cx="179.1" cy="673.1" r="2.08"/>
<circle cx="176.7" cy="676.6" r="2.08"/>
<circle cx="181.2" cy="679.8" r="2.08"/>
<circle cx="168.8" cy="676.0" r="2.08"/>
<circle cx="164.8" cy="676.6" r="2.08"/>
<circle cx="154.5" cy="674.7" r="2.08"/>
<circle cx="145.8" cy="674.5" r="2.08"/>
<circle cx="156.9" cy="679.8" r="2.08"/>
<circle cx="159.3" cy="681.3" r="2.08"/>
<circle cx="163.3" cy="682.9" r="2.08"/>
<circle cx="197.9" cy="684.5" r="2.08"/>
<circle cx="196.1" cy="686.6" r="2.08"/>
<circle cx="166.4" cy="688.0" r="2.08"/>
<circle cx="160.1" cy="689.3" r="2.08"/>
<circle cx="164.0" cy="687.7" r="2.08"/>
<circle cx="166.4" cy="694.0" r="2.08"/>
<circle cx="190.2" cy="695.0" r="2.08"/>
<circle cx="186.3" cy="696.0" r="2.08"/>
<circle cx="175.2" cy="698.3" r="2.08"/>
<circle cx="178.7" cy="698.3" r="2.08"/>
<circle cx="167.2" cy="698.3" r="2.08"/>
<circle cx="163.6" cy="698.3" r="2.08"/>
<circle cx="182.3" cy="701.3" r="2.08"/>
<circle cx="200.6" cy="703.9" r="2.08"/>
<circle cx="196.1" cy="706.7" r="2.08"/>
<circle cx="198.2" cy="707.5" r="2.08"/>
<circle cx="211.0" cy="704.4" r="2.08"/>
<circle cx="169.6" cy="712.0" r="2.08"/>
<circle cx="163.3" cy="711.5" r="2.08"/>
<circle cx="246.5" cy="682.6" r="2.08"/>
<circle cx="238.8" cy="688.5" r="2.08"/>
<circle cx="164.8" cy="714.1" r="2.08"/>
<circle cx="150.6" cy="713.8" r="2.08"/>
<circle cx="173.6" cy="718.3" r="2.08"/>
<circle cx="192.3" cy="722.1" r="2.08"/>
<circle cx="149.0" cy="725.7" r="2.08"/>
<circle cx="164.8" cy="730.2" r="2.08"/>
<circle cx="159.0" cy="739.2" r="2.08"/>
<circle cx="172.3" cy="742.4" r="2.08"/>
<circle cx="164.5" cy="749.4" r="2.08"/>
</g>
</g>
<g id="polar-a">
<circle cx="439.8" cy="132.4" r="22.62" fill="none" stroke="#dcdcdc" stroke-width="0.7"/>
<circle cx="439.8" cy="132.4" r="45.24" fill="none" stroke="#dcdcdc" stroke-width="0.7"/>
<circle cx="439.8" cy="132.4" r="67.86" fill="none" stroke="#dcdcdc" stroke-width="0.7"/>
<circle cx="439.8" cy="132.4" r="90.48" fill="none" stroke="#dcdcdc" stroke-width="0.7"/>
<path d="M439.80 132.40L552.90 132.40M439.80 132.40L537.75 75.85M439.80 132.40L496.35 34.45M439.80 132.40L439.80 19.30M439.80 132.40L383.25 34.45M439.80 132.40L341.85 75.85M439.80 132.40L326.70 132.40M439.80 132.40L341.85 188.95M439.80 132.40L383.25 230.35M439.80 132.40L439.80 245.50M439.80 132.40L496.35 230.35M439.80 132.40L537.75 188.95" stroke="#dcdcdc" stroke-width="0.7" fill="none"/>
<circle cx="439.8" cy="132.4" r="113.10" fill="none" stroke="#333" stroke-width="0.8"/>
<g font-family="Liberation Sans, sans-serif" font-weight="bold" font-size="6.1" fill="#000" text-anchor="middle">
<text x="563.50" y="134.50">0°</text>
<text x="546.94" y="72.70">30°</text>
<text x="501.70" y="27.46">60°</text>
<text x="439.90" y="10.90">90°</text>
<text x="378.10" y="27.46">120°</text>
<text x="332.86" y="72.70">150°</text>
<text x="316.30" y="134.50">180°</text>
<text x="332.86" y="196.30">210°</text>
<text x="378.10" y="241.54">240°</text>
<text x="439.90" y="258.10">270°</text>
<text x="501.70" y="241.54">300°</text>
<text x="546.94" y="196.30">330°</text>
</g>
<g font-family="Liberation Sans, sans-serif" font-weight="bold" font-size="6.1" fill="#000">
<text x="420.38" y="130.90">10%</text>
<text x="397.76" y="130.90">20%</text>
<text x="375.14" y="130.90">30%</text>
<text x="352.52" y="130.90">40%</text>
<text x="329.90" y="130.90">50%</text>
<text x="383.5" y="141.80" text-anchor="middle">mean Δ Blood pressure</text>
</g>
<path d="M440.20 122.10L441.60 120.80L444.40 120.60L446.20 122.10L446.50 124.20L449.30 124.50L452.20 128.40L453.10 132.60L452.20 136.90L449.70 140.40L446.20 141.00L443.70 139.00L441.20 139.70L438.80 137.60L437.90 132.60L438.80 128.40L441.60 125.60L441.90 123.80L440.40 123.10Z" fill="#858585" stroke="#858585" stroke-width="1.4" stroke-linejoin="round"/>
<g fill="#fff" fill-opacity="0.15" stroke="#1e1e1e" stroke-width="0.75">
<circle cx="456.7" cy="100.4" r="1.3"/>
<circle cx="442.9" cy="115.2" r="1.3"/>
<circle cx="487.9" cy="108.8" r="1.3"/>
<circle cx="466.3" cy="113.6" r="1.3"/>
<circle cx="475.8" cy="113.3" r="1.3"/>
<circle cx="460.2" cy="117.2" r="1.3"/>
<circle cx="483.9" cy="119.0" r="1.3"/>
<circle cx="496.6" cy="116.4" r="1.3"/>
<circle cx="510.1" cy="114.4" r="1.3"/>
<circle cx="469.8" cy="122.1" r="1.3"/>
<circle cx="453.9" cy="122.3" r="1.3"/>
<circle cx="507.1" cy="123.3" r="1.3"/>
<circle cx="499.1" cy="124.2" r="1.3"/>
<circle cx="454.4" cy="127.5" r="1.3"/>
<circle cx="467.9" cy="128.8" r="1.3"/>
<circle cx="479.3" cy="128.2" r="1.3"/>
<circle cx="471.5" cy="131.2" r="1.3"/>
<circle cx="454.0" cy="131.0" r="1.3"/>
<circle cx="487.7" cy="133.4" r="1.3"/>
<circle cx="463.1" cy="134.7" r="1.3"/>
<circle cx="458.0" cy="133.4" r="1.3"/>
<circle cx="474.2" cy="135.5" r="1.3"/>
<circle cx="488.5" cy="137.4" r="1.3"/>
<circle cx="482.6" cy="139.0" r="1.3"/>
<circle cx="468.7" cy="138.7" r="1.3"/>
<circle cx="459.1" cy="139.0" r="1.3"/>
<circle cx="456.0" cy="138.2" r="1.3"/>
<circle cx="454.8" cy="135.8" r="1.3"/>
<circle cx="475.8" cy="141.0" r="1.3"/>
<circle cx="464.7" cy="141.3" r="1.3"/>
<circle cx="462.6" cy="142.5" r="1.3"/>
<circle cx="494.0" cy="142.9" r="1.3"/>
<circle cx="450.4" cy="143.3" r="1.3"/>
<circle cx="446.4" cy="144.2" r="1.3"/>
<circle cx="466.3" cy="142.9" r="1.3"/>
<circle cx="462.8" cy="146.1" r="1.3"/>
<circle cx="458.0" cy="146.9" r="1.3"/>
<circle cx="494.0" cy="146.1" r="1.3"/>
<circle cx="468.7" cy="148.0" r="1.3"/>
<circle cx="468.8" cy="148.2" r="1.3"/>
<circle cx="463.6" cy="150.9" r="1.3"/>
<circle cx="493.6" cy="151.2" r="1.3"/>
<circle cx="477.4" cy="153.3" r="1.3"/>
<circle cx="453.6" cy="150.4" r="1.3"/>
<circle cx="455.2" cy="151.7" r="1.3"/>
<circle cx="455.3" cy="151.8" r="1.3"/>
<circle cx="457.5" cy="153.6" r="1.3"/>
<circle cx="457.9" cy="155.6" r="1.3"/>
<circle cx="459.1" cy="158.0" r="1.3"/>
<circle cx="466.3" cy="154.8" r="1.3"/>
<circle cx="485.3" cy="155.8" r="1.3"/>
<circle cx="462.3" cy="161.2" r="1.3"/>
<circle cx="460.7" cy="162.8" r="1.3"/>
<circle cx="488.5" cy="163.9" r="1.3"/>
<circle cx="482.9" cy="167.9" r="1.3"/>
<circle cx="501.2" cy="169.6" r="1.3"/>
<circle cx="486.6" cy="172.0" r="1.3"/>
<circle cx="485.5" cy="178.5" r="1.3"/>
<circle cx="501.6" cy="202.0" r="1.3"/>
</g>
<path d="M439.80 132.40L549.73 158.99" stroke="#2a2a2a" stroke-width="0.95" fill="none"/>
<path d="M442.70 129.40L440.10 132.50L442.40 135.70" stroke="#222" stroke-width="0.9" fill="none"/>
<path d="M439.80 132.40L523.58 56.43" stroke="#222" stroke-width="1.0" stroke-dasharray="5.34 3.00" stroke-dashoffset="7.34" fill="none"/>
<path d="M439.80 132.40L502.06 226.82" stroke="#222" stroke-width="1.0" stroke-dasharray="4.29 2.41" stroke-dashoffset="0.94" fill="none"/>
</g>
<g id="polar-b">
<circle cx="431.3" cy="419.4" r="28.15" fill="none" stroke="#dcdcdc" stroke-width="0.7"/>
<circle cx="431.3" cy="419.4" r="56.30" fill="none" stroke="#dcdcdc" stroke-width="0.7"/>
<circle cx="431.3" cy="419.4" r="84.45" fill="none" stroke="#dcdcdc" stroke-width="0.7"/>
<path d="M431.30 419.40L543.90 419.40M431.30 419.40L528.81 363.10M431.30 419.40L487.60 321.89M431.30 419.40L431.30 306.80M431.30 419.40L375.00 321.89M431.30 419.40L333.79 363.10M431.30 419.40L318.70 419.40M431.30 419.40L333.79 475.70M431.30 419.40L375.00 516.91M431.30 419.40L431.30 532.00M431.30 419.40L487.60 516.91M431.30 419.40L528.81 475.70" stroke="#dcdcdc" stroke-width="0.7" fill="none"/>
<circle cx="431.3" cy="419.4" r="112.60" fill="none" stroke="#333" stroke-width="0.8"/>
<g font-family="Liberation Sans, sans-serif" font-weight="bold" font-size="6.1" fill="#000" text-anchor="middle">
<text x="555.00" y="421.50">0°</text>
<text x="538.44" y="359.70">30°</text>
<text x="493.20" y="314.46">60°</text>
<text x="431.40" y="297.90">90°</text>
<text x="369.60" y="314.46">120°</text>
<text x="324.36" y="359.70">150°</text>
<text x="307.80" y="421.50">180°</text>
<text x="324.36" y="483.30">210°</text>
<text x="369.60" y="528.54">240°</text>
<text x="431.40" y="545.10">270°</text>
<text x="493.20" y="528.54">300°</text>
<text x="538.44" y="483.30">330°</text>
</g>
<g font-family="Liberation Sans, sans-serif" font-weight="bold" font-size="6.1" fill="#000">
<text x="406.35" y="417.90">20%</text>
<text x="378.20" y="417.90">40%</text>
<text x="350.05" y="417.90">60%</text>
<text x="321.90" y="417.90">80%</text>
<text x="383.5" y="428.80" text-anchor="middle">mean Δ Blood pressure</text>
</g>
<path d="M429.80 419.70L430.80 416.60L434.30 415.40L437.80 416.90L439.30 419.90L437.80 423.40L434.30 424.70L431.30 423.40Z" fill="#858585" stroke="#858585" stroke-width="1.4" stroke-linejoin="round"/>
<g fill="#fff" fill-opacity="0.15" stroke="#1e1e1e" stroke-width="0.75">
<circle cx="449.4" cy="404.0" r="1.3"/>
<circle cx="434.4" cy="409.1" r="1.3"/>
<circle cx="443.5" cy="408.5" r="1.3"/>
<circle cx="445.4" cy="409.6" r="1.3"/>
<circle cx="442.2" cy="411.2" r="1.3"/>
<circle cx="453.3" cy="407.7" r="1.3"/>
<circle cx="453.5" cy="407.9" r="1.3"/>
<circle cx="458.4" cy="409.9" r="1.3"/>
<circle cx="456.8" cy="412.3" r="1.3"/>
<circle cx="452.5" cy="412.3" r="1.3"/>
<circle cx="462.5" cy="413.7" r="1.3"/>
<circle cx="472.4" cy="414.0" r="1.3"/>
<circle cx="435.6" cy="413.6" r="1.3"/>
<circle cx="438.3" cy="413.9" r="1.3"/>
<circle cx="440.6" cy="413.3" r="1.3"/>
<circle cx="450.5" cy="415.2" r="1.3"/>
<circle cx="451.7" cy="417.9" r="1.3"/>
<circle cx="440.6" cy="416.7" r="1.3"/>
<circle cx="440.3" cy="419.1" r="1.3"/>
<circle cx="440.5" cy="419.3" r="1.3"/>
<circle cx="461.6" cy="420.6" r="1.3"/>
<circle cx="452.5" cy="422.3" r="1.3"/>
<circle cx="456.5" cy="423.1" r="1.3"/>
<circle cx="443.8" cy="422.3" r="1.3"/>
<circle cx="444.6" cy="425.5" r="1.3"/>
<circle cx="444.8" cy="425.6" r="1.3"/>
<circle cx="441.4" cy="423.9" r="1.3"/>
<circle cx="472.4" cy="426.3" r="1.3"/>
<circle cx="456.5" cy="426.6" r="1.3"/>
<circle cx="437.5" cy="426.3" r="1.3"/>
<circle cx="439.8" cy="428.7" r="1.3"/>
<circle cx="435.9" cy="427.9" r="1.3"/>
<circle cx="452.5" cy="429.4" r="1.3"/>
<circle cx="454.9" cy="431.0" r="1.3"/>
<circle cx="455.1" cy="431.2" r="1.3"/>
<circle cx="443.8" cy="428.2" r="1.3"/>
<circle cx="459.4" cy="433.3" r="1.3"/>
<circle cx="441.4" cy="431.8" r="1.3"/>
<circle cx="445.4" cy="433.4" r="1.3"/>
<circle cx="448.6" cy="434.5" r="1.3"/>
<circle cx="445.1" cy="436.1" r="1.3"/>
<circle cx="449.8" cy="436.6" r="1.3"/>
<circle cx="437.5" cy="431.0" r="1.3"/>
<circle cx="454.6" cy="443.1" r="1.3"/>
<circle cx="467.0" cy="446.6" r="1.3"/>
<circle cx="494.1" cy="440.2" r="1.3"/>
<circle cx="509.4" cy="438.7" r="1.3"/>
<circle cx="471.9" cy="454.5" r="1.3"/>
<circle cx="467.1" cy="463.1" r="1.3"/>
<circle cx="435.0" cy="416.2" r="1.3"/>
<circle cx="441.3" cy="437.8" r="1.3"/>
<circle cx="434.6" cy="422.6" r="1.3"/>
<circle cx="439.1" cy="418.4" r="1.3"/>
<circle cx="436.4" cy="416.1" r="1.3"/>
<circle cx="437.0" cy="414.5" r="1.3"/>
<circle cx="450.8" cy="418.9" r="1.3"/>
<circle cx="450.3" cy="415.8" r="1.3"/>
<circle cx="435.0" cy="418.5" r="1.3"/>
<circle cx="441.7" cy="412.9" r="1.3"/>
<circle cx="436.1" cy="422.2" r="1.3"/>
<circle cx="442.0" cy="413.6" r="1.3"/>
<circle cx="443.9" cy="409.5" r="1.3"/>
<circle cx="440.3" cy="411.7" r="1.3"/>
<circle cx="443.8" cy="416.7" r="1.3"/>
<circle cx="447.5" cy="431.1" r="1.3"/>
<circle cx="445.3" cy="427.5" r="1.3"/>
<circle cx="441.6" cy="410.7" r="1.3"/>
<circle cx="442.7" cy="432.2" r="1.3"/>
<circle cx="436.7" cy="418.6" r="1.3"/>
<circle cx="437.1" cy="429.0" r="1.3"/>
<circle cx="440.8" cy="436.2" r="1.3"/>
<circle cx="442.1" cy="421.1" r="1.3"/>
<circle cx="444.2" cy="423.9" r="1.3"/>
<circle cx="437.2" cy="415.1" r="1.3"/>
<circle cx="442.5" cy="424.2" r="1.3"/>
<circle cx="433.9" cy="422.8" r="1.3"/>
<circle cx="438.6" cy="423.6" r="1.3"/>
<circle cx="438.5" cy="420.7" r="1.3"/>
<circle cx="435.2" cy="424.0" r="1.3"/>
<circle cx="436.9" cy="416.9" r="1.3"/>
</g>
<path d="M431.30 419.40L542.39 437.79" stroke="#2a2a2a" stroke-width="0.95" fill="none"/>
<path d="M434.20 416.40L431.60 419.50L433.90 422.70" stroke="#222" stroke-width="0.9" fill="none"/>
<path d="M431.30 419.40L508.67 337.59" stroke="#222" stroke-width="1.0" stroke-dasharray="4.93 2.77" stroke-dashoffset="3.85" fill="none"/>
<path d="M431.30 419.40L478.89 521.45" stroke="#222" stroke-width="1.0" stroke-dasharray="3.95 2.22" stroke-dashoffset="3.09" fill="none"/>
</g>
<g id="polar-c">
<circle cx="430.3" cy="699.4" r="22.54" fill="none" stroke="#dcdcdc" stroke-width="0.7"/>
<circle cx="430.3" cy="699.4" r="45.08" fill="none" stroke="#dcdcdc" stroke-width="0.7"/>
<circle cx="430.3" cy="699.4" r="67.62" fill="none" stroke="#dcdcdc" stroke-width="0.7"/>
<circle cx="430.3" cy="699.4" r="90.16" fill="none" stroke="#dcdcdc" stroke-width="0.7"/>
<path d="M430.30 699.40L543.00 699.40M430.30 699.40L527.90 643.05M430.30 699.40L486.65 601.80M430.30 699.40L430.30 586.70M430.30 699.40L373.95 601.80M430.30 699.40L332.70 643.05M430.30 699.40L317.60 699.40M430.30 699.40L332.70 755.75M430.30 699.40L373.95 797.00M430.30 699.40L430.30 812.10M430.30 699.40L486.65 797.00M430.30 699.40L527.90 755.75" stroke="#dcdcdc" stroke-width="0.7" fill="none"/>
<circle cx="430.3" cy="699.4" r="112.70" fill="none" stroke="#333" stroke-width="0.8"/>
<g font-family="Liberation Sans, sans-serif" font-weight="bold" font-size="6.1" fill="#000" text-anchor="middle">
<text x="554.00" y="701.50">0°</text>
<text x="537.44" y="639.70">30°</text>
<text x="492.20" y="594.46">60°</text>
<text x="430.40" y="577.90">90°</text>
<text x="368.60" y="594.46">120°</text>
<text x="323.36" y="639.70">150°</text>
<text x="306.80" y="701.50">180°</text>
<text x="323.36" y="763.30">210°</text>
<text x="368.60" y="808.54">240°</text>
<text x="430.40" y="825.10">270°</text>
<text x="492.20" y="808.54">300°</text>
<text x="537.44" y="763.30">330°</text>
</g>
<g font-family="Liberation Sans, sans-serif" font-weight="bold" font-size="6.1" fill="#000">
<text x="410.96" y="697.90">20%</text>
<text x="388.42" y="697.90">40%</text>
<text x="365.88" y="697.90">60%</text>
<text x="343.34" y="697.90">80%</text>
<text x="320.80" y="697.90">100%</text>
<text x="383.5" y="708.80" text-anchor="middle">mean Δ Blood pressure</text>
</g>
<path d="M428.40 699.40L429.30 695.40L432.30 692.00L436.30 693.40L441.30 696.90L444.30 699.90L440.30 702.90L435.30 704.00L430.80 703.40Z" fill="#858585" stroke="#858585" stroke-width="1.4" stroke-linejoin="round"/>
<g fill="#fff" fill-opacity="0.15" stroke="#1e1e1e" stroke-width="0.75">
<circle cx="437.5" cy="686.4" r="1.3"/>
<circle cx="457.8" cy="688.3" r="1.3"/>
<circle cx="461.0" cy="691.7" r="1.3"/>
<circle cx="438.7" cy="691.2" r="1.3"/>
<circle cx="433.5" cy="692.0" r="1.3"/>
<circle cx="435.9" cy="690.4" r="1.3"/>
<circle cx="447.3" cy="692.8" r="1.3"/>
<circle cx="445.4" cy="694.8" r="1.3"/>
<circle cx="454.9" cy="694.0" r="1.3"/>
<circle cx="451.3" cy="697.9" r="1.3"/>
<circle cx="449.0" cy="698.8" r="1.3"/>
<circle cx="461.6" cy="696.7" r="1.3"/>
<circle cx="464.4" cy="698.3" r="1.3"/>
<circle cx="459.7" cy="698.0" r="1.3"/>
<circle cx="461.0" cy="699.9" r="1.3"/>
<circle cx="461.6" cy="701.8" r="1.3"/>
<circle cx="439.0" cy="694.4" r="1.3"/>
<circle cx="440.6" cy="696.7" r="1.3"/>
<circle cx="443.8" cy="704.7" r="1.3"/>
<circle cx="447.8" cy="703.9" r="1.3"/>
<circle cx="450.2" cy="705.5" r="1.3"/>
<circle cx="477.6" cy="707.4" r="1.3"/>
<circle cx="456.5" cy="707.4" r="1.3"/>
<circle cx="457.3" cy="708.2" r="1.3"/>
<circle cx="453.0" cy="707.1" r="1.3"/>
<circle cx="439.0" cy="704.7" r="1.3"/>
<circle cx="436.7" cy="707.1" r="1.3"/>
<circle cx="435.1" cy="708.7" r="1.3"/>
<circle cx="437.5" cy="709.4" r="1.3"/>
<circle cx="443.5" cy="710.2" r="1.3"/>
<circle cx="443.7" cy="710.4" r="1.3"/>
<circle cx="443.5" cy="710.1" r="1.3"/>
<circle cx="449.4" cy="711.8" r="1.3"/>
<circle cx="448.6" cy="710.2" r="1.3"/>
<circle cx="460.0" cy="713.1" r="1.3"/>
<circle cx="439.8" cy="713.4" r="1.3"/>
<circle cx="435.9" cy="711.8" r="1.3"/>
<circle cx="442.7" cy="716.6" r="1.3"/>
<circle cx="461.0" cy="719.0" r="1.3"/>
<circle cx="461.6" cy="721.7" r="1.3"/>
<circle cx="461.7" cy="721.8" r="1.3"/>
<circle cx="468.3" cy="721.3" r="1.3"/>
<circle cx="455.7" cy="732.0" r="1.3"/>
<circle cx="470.2" cy="733.6" r="1.3"/>
<circle cx="505.4" cy="737.7" r="1.3"/>
<circle cx="518.4" cy="725.0" r="1.3"/>
<circle cx="443.8" cy="687.6" r="1.3"/>
<circle cx="433.6" cy="696.9" r="1.3"/>
<circle cx="438.9" cy="699.1" r="1.3"/>
<circle cx="434.9" cy="699.8" r="1.3"/>
<circle cx="436.6" cy="705.7" r="1.3"/>
<circle cx="437.0" cy="705.5" r="1.3"/>
<circle cx="432.0" cy="703.2" r="1.3"/>
<circle cx="438.5" cy="697.1" r="1.3"/>
<circle cx="444.1" cy="701.2" r="1.3"/>
<circle cx="433.8" cy="701.1" r="1.3"/>
<circle cx="440.6" cy="694.7" r="1.3"/>
<circle cx="442.0" cy="697.4" r="1.3"/>
<circle cx="435.6" cy="693.8" r="1.3"/>
<circle cx="437.5" cy="696.5" r="1.3"/>
<circle cx="442.8" cy="699.5" r="1.3"/>
<circle cx="433.8" cy="701.5" r="1.3"/>
<circle cx="443.6" cy="702.2" r="1.3"/>
<circle cx="439.2" cy="699.1" r="1.3"/>
<circle cx="435.4" cy="698.7" r="1.3"/>
<circle cx="435.1" cy="704.6" r="1.3"/>
<circle cx="435.0" cy="696.9" r="1.3"/>
<circle cx="432.8" cy="702.9" r="1.3"/>
<circle cx="433.2" cy="705.1" r="1.3"/>
<circle cx="445.8" cy="699.5" r="1.3"/>
<circle cx="437.7" cy="699.5" r="1.3"/>
<circle cx="434.7" cy="697.1" r="1.3"/>
<circle cx="439.4" cy="698.0" r="1.3"/>
<circle cx="433.7" cy="696.8" r="1.3"/>
<circle cx="437.5" cy="698.3" r="1.3"/>
</g>
<circle cx="443.5" cy="710.2" r="1.7" fill="#000"/>
<path d="M430.30 699.40L540.54 722.83" stroke="#2a2a2a" stroke-width="0.95" fill="none"/>
<path d="M433.20 696.40L430.60 699.50L432.90 702.70" stroke="#222" stroke-width="0.9" fill="none"/>
<path d="M430.30 699.40L501.68 612.19" stroke="#222" stroke-width="1.0" stroke-dasharray="4.63 2.61" stroke-dashoffset="3.62" fill="none"/>
<path d="M430.30 699.40L468.11 805.57" stroke="#222" stroke-width="1.0" stroke-dasharray="3.80 2.14" stroke-dashoffset="2.44" fill="none"/>
</g>
</svg>
</body></html>
